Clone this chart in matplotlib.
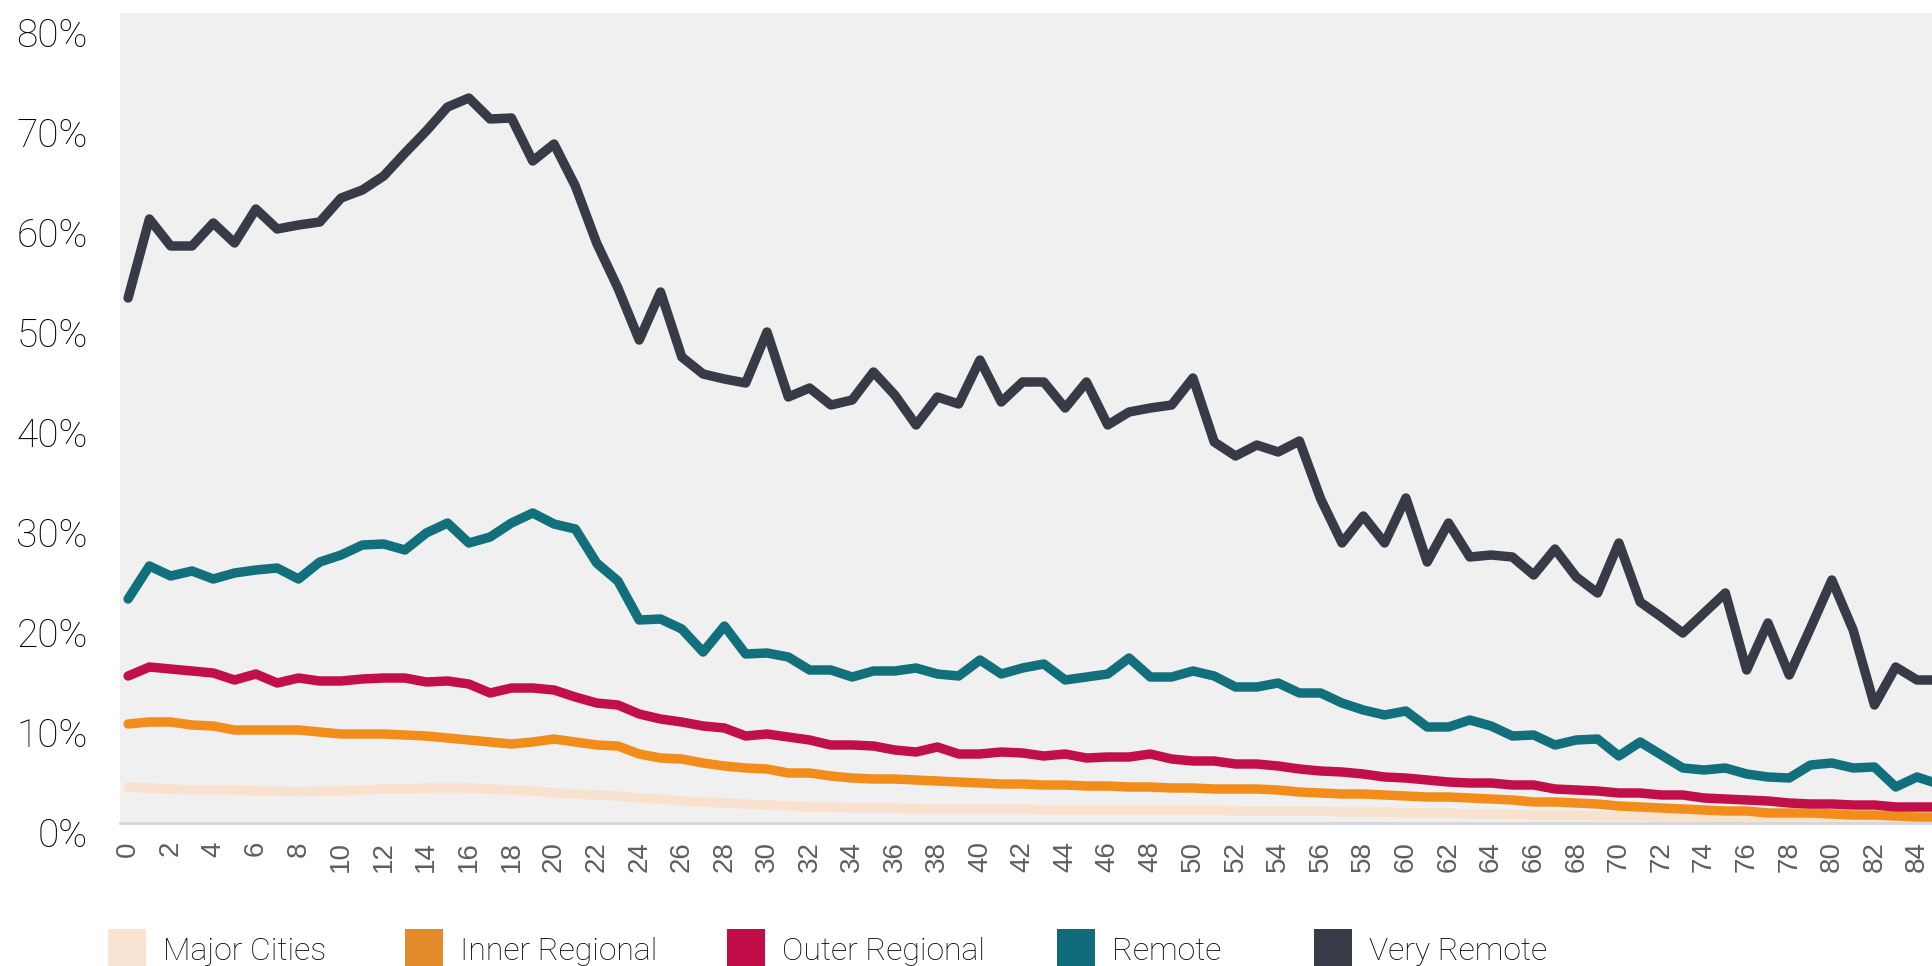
import matplotlib
matplotlib.use("Agg")
import matplotlib.pyplot as plt
import matplotlib.transforms as mtransforms
from matplotlib.patches import Rectangle

# age in years (x) and share per remoteness area (%)
ages = list(range(86))

major_cities = [3.6, 3.5, 3.4, 3.3, 3.3, 3.3, 3.2, 3.2, 3.1, 3.2,
                3.2, 3.3, 3.4, 3.4, 3.5, 3.5, 3.5, 3.4, 3.3, 3.2,
                3.0, 2.9, 2.8, 2.7, 2.5, 2.4, 2.2, 2.1, 2.0, 1.9,
                1.8, 1.7, 1.6, 1.6, 1.5, 1.5, 1.5, 1.4, 1.4, 1.4,
                1.4, 1.4, 1.4, 1.3, 1.3, 1.3, 1.3, 1.3, 1.3, 1.3,
                1.3, 1.3, 1.2, 1.2, 1.2, 1.2, 1.2, 1.1, 1.1, 1.1,
                1.0, 1.0, 1.0, 0.9, 0.9, 0.9, 0.8, 0.8, 0.8, 0.7,
                0.7, 0.7, 0.6, 0.6, 0.6, 0.5, 0.5, 0.5, 0.5, 0.4,
                0.4, 0.4, 0.4, 0.3, 0.3, 0.3]

inner_regional = [9.9, 10.1, 10.1, 9.8, 9.7, 9.3, 9.3, 9.3, 9.3, 9.1,
                  8.9, 8.9, 8.9, 8.8, 8.7, 8.5, 8.3, 8.1, 7.9, 8.1,
                  8.4, 8.1, 7.8, 7.7, 6.9, 6.5, 6.4, 6.0, 5.7, 5.5,
                  5.4, 5.0, 5.0, 4.7, 4.5, 4.4, 4.4, 4.3, 4.2, 4.1,
                  4.0, 3.9, 3.9, 3.8, 3.8, 3.7, 3.7, 3.6, 3.6, 3.5,
                  3.5, 3.4, 3.4, 3.4, 3.3, 3.1, 3.0, 2.9, 2.9, 2.8,
                  2.7, 2.6, 2.6, 2.5, 2.4, 2.3, 2.1, 2.1, 2.0, 1.9,
                  1.7, 1.6, 1.5, 1.4, 1.3, 1.2, 1.2, 1.0, 1.0, 1.0,
                  0.9, 0.8, 0.8, 0.7, 0.6, 0.6]

outer_regional = [14.7, 15.6, 15.4, 15.2, 15.0, 14.3, 14.9, 14.0, 14.5, 14.2,
                  14.2, 14.4, 14.5, 14.5, 14.1, 14.2, 13.9, 13.0, 13.5, 13.5,
                  13.3, 12.6, 12.0, 11.8, 10.9, 10.4, 10.1, 9.7, 9.5, 8.7,
                  8.9, 8.6, 8.3, 7.8, 7.8, 7.7, 7.3, 7.1, 7.6, 6.9,
                  6.9, 7.1, 7.0, 6.7, 6.9, 6.5, 6.6, 6.6, 6.9, 6.4,
                  6.2, 6.2, 5.9, 5.9, 5.7, 5.4, 5.2, 5.1, 4.9, 4.6,
                  4.5, 4.3, 4.1, 4.0, 4.0, 3.8, 3.8, 3.4, 3.3, 3.2,
                  3.0, 3.0, 2.8, 2.8, 2.5, 2.4, 2.3, 2.2, 2.0, 1.9,
                  1.9, 1.8, 1.8, 1.6, 1.6, 1.6]

remote = [22.4, 25.7, 24.7, 25.2, 24.4, 25.0, 25.3, 25.5, 24.4, 26.1,
          26.8, 27.8, 27.9, 27.3, 29.0, 30.0, 28.0, 28.6, 30.0, 31.0,
          29.9, 29.4, 26.0, 24.2, 20.3, 20.4, 19.4, 17.1, 19.7, 16.9,
          17.0, 16.6, 15.3, 15.3, 14.6, 15.2, 15.2, 15.5, 14.9, 14.7,
          16.3, 14.9, 15.5, 15.9, 14.3, 14.6, 14.9, 16.5, 14.6, 14.6,
          15.2, 14.7, 13.6, 13.6, 14.0, 13.0, 13.0, 12.0, 11.3, 10.8,
          11.2, 9.6, 9.6, 10.3, 9.7, 8.7, 8.8, 7.8, 8.3, 8.4,
          6.7, 8.1, 6.8, 5.5, 5.3, 5.5, 4.9, 4.6, 4.5, 5.8,
          6.0, 5.5, 5.6, 3.6, 4.6, 3.9]

very_remote = [52.5, 60.4, 57.7, 57.7, 60.0, 58.0, 61.4, 59.4, 59.8, 60.1,
               62.5, 63.3, 64.7, 67.0, 69.2, 71.6, 72.5, 70.4, 70.5, 66.2,
               67.9, 63.7, 58.0, 53.5, 48.3, 53.1, 46.6, 44.9, 44.4, 44.0,
               49.1, 42.6, 43.5, 41.8, 42.3, 45.1, 42.8, 39.8, 42.6, 41.9,
               46.3, 42.1, 44.1, 44.1, 41.5, 44.1, 39.8, 41.1, 41.5, 41.8,
               44.5, 38.1, 36.7, 37.8, 37.1, 38.2, 32.4, 28.0, 30.7, 28.0,
               32.5, 26.1, 30.0, 26.6, 26.8, 26.6, 24.8, 27.4, 24.6, 23.0,
               28.0, 22.1, 20.6, 19.0, 21.0, 23.0, 15.3, 20.0, 14.8, 19.5,
               24.3, 19.3, 11.8, 15.6, 14.3, 14.3]

series_names = ["Major Cities", "Inner Regional", "Outer Regional", "Remote", "Very Remote"]
series_values = [major_cities, inner_regional, outer_regional, remote, very_remote]
line_colors = ["#f8e1cd", "#f28d1b", "#c10f4a", "#11707c", "#363b47"]
legend_colors = ["#f9e3d2", "#e38b2b", "#c00d48", "#116c79", "#363b47"]

y_ticks = [0, 10, 20, 30, 40, 50, 60, 70, 80]
x_ticks = list(range(0, 85, 2))

W, H = 1933, 966
plt.rcParams['font.family'] = ['Roboto', 'DejaVu Sans']

fig = plt.figure(figsize=(W / 100, H / 100), dpi=100)
fig.patch.set_facecolor("white")
ax = fig.add_axes([120 / W, 1 - 823 / H, 1 - 120 / W, (823 - 13) / H])
ax.set_facecolor("#f0f0f0")

for name, vals, col in zip(series_names, series_values, line_colors):
    ax.plot(ages, vals, color=col, lw=6.8, solid_joinstyle="round",
            solid_capstyle="round", label=name)

ax.set_xlim(-0.38, 84.75)
ax.set_ylim(0, 81)

for s in ["top", "right", "left"]:
    ax.spines[s].set_visible(False)
ax.spines["bottom"].set_color("#d6d6d6")
ax.spines["bottom"].set_linewidth(2)

ax.set_yticks(y_ticks)
ax.set_yticklabels([f"{v}%" for v in y_ticks])
ax.tick_params(axis="y", length=0, pad=23, labelsize=28, labelcolor="#000000")
offset = mtransforms.ScaledTranslation(0, -7 / 72, fig.dpi_scale_trans)
for lab in ax.get_yticklabels():
    lab.set_transform(lab.get_transform() + offset)
    lab.set_fontweight("light")

ax.set_xticks(x_ticks)
ax.set_xticklabels([str(v) for v in x_ticks], rotation=90, va="top", ha="center",
                   family=["Liberation Sans", "DejaVu Sans"])
ax.tick_params(axis="x", length=0, pad=13, labelsize=20, labelcolor="#5e5e5e")

# legend along the bottom edge (cut off like the original)
sq_left = [108, 405, 727, 1057, 1314]
for x0, name, col in zip(sq_left, series_names, legend_colors):
    fig.add_artist(Rectangle((x0 / W, 0), 38 / W, (966 - 929) / H,
                             transform=fig.transFigure, color=col, lw=0))
    fig.text((x0 + 55) / W, 1 - 960 / H, name, fontsize=23, fontweight="light",
             color="#000000", va="baseline", ha="left")

fig.savefig("out.png", dpi=100)
